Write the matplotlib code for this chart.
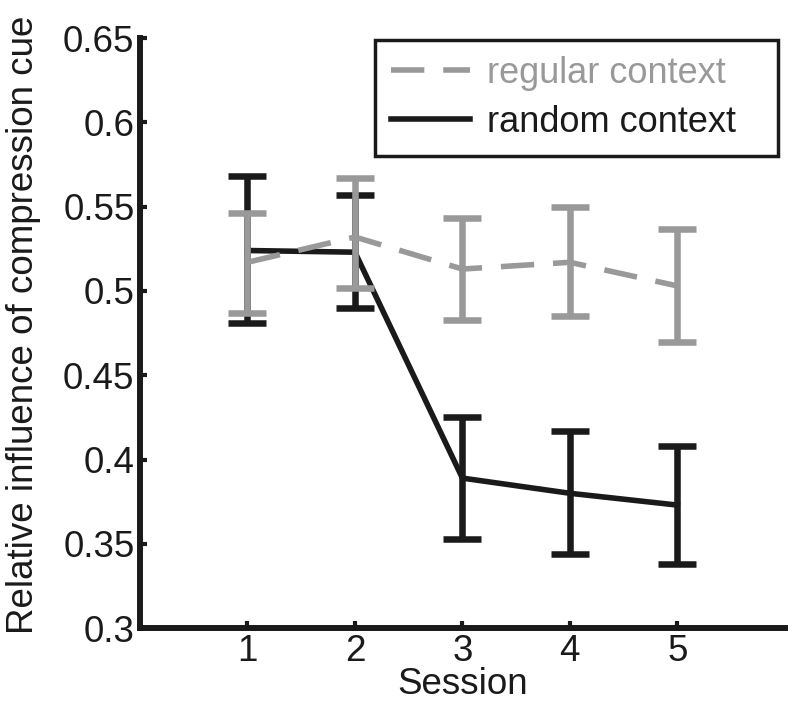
import matplotlib.pyplot as plt
from matplotlib.lines import Line2D
import numpy as np

plt.rcParams['font.family'] = ['Liberation Sans', 'DejaVu Sans']

sessions = [1, 2, 3, 4, 5]
# regular context (gray, dashed)
reg_mean = [0.517, 0.532, 0.513, 0.517, 0.503]
reg_lo = [0.487, 0.502, 0.483, 0.485, 0.470]
reg_hi = [0.546, 0.567, 0.543, 0.550, 0.537]
# random context (black, solid)
rnd_mean = [0.524, 0.523, 0.389, 0.380, 0.373]
rnd_lo = [0.481, 0.490, 0.353, 0.344, 0.338]
rnd_hi = [0.568, 0.557, 0.425, 0.417, 0.408]

gray = '#999999'
black = '#1a1a1a'
fs = 26.5
dash = [6.0, 3.4]

fig = plt.figure(figsize=(8, 7.05), dpi=100)
ax = fig.add_axes([0.175, 0.109, 0.806, 0.837])

rnd_err = [np.subtract(rnd_mean, rnd_lo), np.subtract(rnd_hi, rnd_mean)]
reg_err = [np.subtract(reg_mean, reg_lo), np.subtract(reg_hi, reg_mean)]

ax.errorbar(sessions, rnd_mean, yerr=rnd_err, color=black, lw=4.0,
            elinewidth=4.7, capsize=13.5, capthick=4.7, zorder=2)
eb = ax.errorbar(sessions, reg_mean, yerr=reg_err, color=gray, lw=4.0,
                 elinewidth=4.7, capsize=13.5, capthick=4.7, zorder=3)
eb[0].set_dashes(dash)

ax.set_xlim(0, 6)
ax.set_ylim(0.3, 0.65)
ax.set_xticks(sessions)
ax.set_yticks(np.arange(0.3, 0.651, 0.05))
ax.set_yticklabels(['0.3', '0.35', '0.4', '0.45', '0.5', '0.55', '0.6', '0.65'])
ax.tick_params(direction='in', length=5, width=3, labelsize=fs, colors=black)
ax.tick_params(axis='x', pad=4)
ax.tick_params(axis='y', pad=4)
for s in ['top', 'right']:
    ax.spines[s].set_visible(False)
for s in ['left', 'bottom']:
    ax.spines[s].set_linewidth(4.3)
    ax.spines[s].set_color(black)

ax.set_xlabel('Session', fontsize=fs, labelpad=-1, color=black)
ax.set_ylabel('Relative influence of compression cue', fontsize=fs, color=black)
ax.yaxis.set_label_coords(-0.153, 0.514)

h_reg = Line2D([], [], color=gray, lw=4.0, dashes=dash)
h_rnd = Line2D([], [], color=black, lw=4.0)
leg = ax.legend([h_reg, h_rnd], ['regular context', 'random context'],
                loc='upper right', bbox_to_anchor=(0.364, 0.5, 0.625, 0.497), mode='expand',
                fontsize=26, frameon=True, fancybox=False, framealpha=1, handlelength=2.2,
                handletextpad=0.45, borderpad=0.45, borderaxespad=0, labelspacing=0.38)
leg.get_frame().set_edgecolor(black)
leg.get_frame().set_linewidth(2.5)
for txt, c in zip(leg.get_texts(), [gray, black]):
    txt.set_color(c)

fig.savefig('out.png', dpi=100)
